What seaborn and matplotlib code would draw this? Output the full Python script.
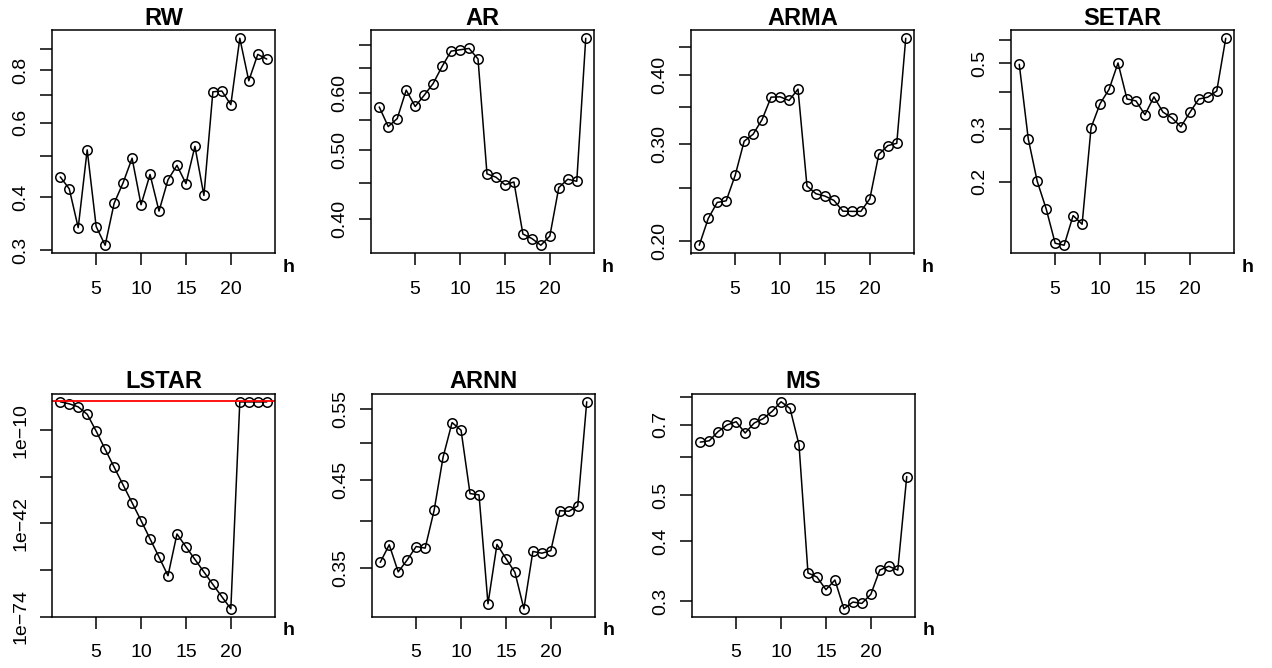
import matplotlib

matplotlib.use("Agg")

import matplotlib.pyplot as plt
import numpy as np
import seaborn as sns
from matplotlib.ticker import FixedFormatter, FixedLocator, NullLocator

H = list(range(1, 25))

RW = [0.447, 0.419, 0.339, 0.518, 0.341, 0.308, 0.387, 0.433, 0.495, 0.384, 0.453, 0.371,
      0.440, 0.476, 0.431, 0.528, 0.404, 0.711, 0.714, 0.663, 0.952, 0.755, 0.872, 0.850]
AR = [0.574, 0.539, 0.553, 0.606, 0.575, 0.596, 0.619, 0.654, 0.687, 0.690, 0.693, 0.670,
      0.463, 0.458, 0.447, 0.451, 0.3815, 0.376, 0.368, 0.379, 0.443, 0.455, 0.452, 0.716]
ARMA = [0.1967, 0.2199, 0.2351, 0.2367, 0.2632, 0.3034, 0.3124, 0.3321, 0.3646, 0.3651, 0.3596, 0.377,
        0.2517, 0.2438, 0.2414, 0.2371, 0.2267, 0.2265, 0.2265, 0.2387, 0.2873, 0.2979, 0.3008, 0.466]
SETAR = [0.4966, 0.279, 0.2005, 0.1618, 0.124, 0.1221, 0.1537, 0.1437, 0.304, 0.366, 0.409, 0.502,
         0.3796, 0.374, 0.336, 0.386, 0.343, 0.328, 0.306, 0.342, 0.3796, 0.385, 0.404, 0.608]
LSTAR = [0.5, 0.1, 9.1e-3, 2.6e-5, 4.5e-11, 2.7e-17, 2.0e-23, 1.6e-29, 1.3e-35, 1.0e-41, 5.6e-48, 3.2e-54,
         1.3e-60, 2.5e-46, 1.0e-50, 5.0e-55, 2.5e-59, 1.3e-63, 7.9e-68, 6.3e-72, 0.45, 0.45, 0.45, 0.45]
ARNN = [0.356, 0.3741, 0.3464, 0.3584, 0.3723, 0.3706, 0.4126, 0.480, 0.5294, 0.518, 0.4327, 0.4311,
        0.3164, 0.3745, 0.3598, 0.346, 0.312, 0.3671, 0.3653, 0.368, 0.4122, 0.4115, 0.4178, 0.5616]
MS = [0.6443, 0.6485, 0.678, 0.700, 0.7105, 0.673, 0.706, 0.721, 0.7467, 0.782, 0.7575, 0.636,
      0.3438, 0.3372, 0.3173, 0.3324, 0.2896, 0.2990, 0.2971, 0.3103, 0.3488, 0.355, 0.3486, 0.5463]

TITLES = ["RW", "AR", "ARMA", "SETAR", "LSTAR", "ARNN", "MS"]
SERIES = [RW, AR, ARMA, SETAR, LSTAR, ARNN, MS]

Y_TICKS = [
    [0.3, 0.4, 0.5, 0.6, 0.7, 0.8, 0.9],
    [0.40, 0.45, 0.50, 0.55, 0.60, 0.65, 0.70],
    [0.20, 0.25, 0.30, 0.35, 0.40, 0.45],
    [0.2, 0.3, 0.4, 0.5, 0.6],
    [1e-74, 1e-58, 1e-42, 1e-26, 1e-10],
    [0.35, 0.40, 0.45, 0.50, 0.55],
    [0.3, 0.4, 0.5, 0.6, 0.7, 0.8],
]
Y_LABELS = [
    ["0.3", "0.4", "", "0.6", "", "0.8", ""],
    ["0.40", "", "0.50", "", "0.60", "", ""],
    ["0.20", "", "0.30", "", "0.40", ""],
    ["0.2", "0.3", "", "0.5", ""],
    ["1e\u221274", "", "1e\u221242", "", "1e\u221210"],
    ["0.35", "", "0.45", "", "0.55"],
    ["0.3", "0.4", "0.5", "", "0.7", ""],
]
X_TICKS = [5, 10, 15, 20]
REF_LINE = {"LSTAR": 1.0}

# plot-region boxes in pixels (left, top), like R's mfrow layout
W_PX, H_PX = 1272, 668
BOX_W, BOX_H = 223, 223.5
BOXES = [(52, 30), (371, 30), (691, 30), (1011, 30),
         (52, 393.5), (372, 393.5), (692, 393.5)]

sns.set_style("ticks")
plt.rcParams["font.family"] = ["Liberation Sans", "DejaVu Sans"]
plt.rcParams["text.color"] = "black"
plt.rcParams["axes.titlecolor"] = "black"
plt.rcParams["axes.linewidth"] = 1.1

fig = plt.figure(figsize=(W_PX / 100, H_PX / 100), dpi=100)

for title, vals, yt, yl, (left, top) in zip(TITLES, SERIES, Y_TICKS, Y_LABELS, BOXES):
    ax = fig.add_axes([left / W_PX, 1 - (top + BOX_H) / H_PX, BOX_W / W_PX, BOX_H / H_PX])
    ax.set_yscale("log")
    sns.lineplot(x=H, y=vals, ax=ax, color="black", lw=1.1, marker="o", markersize=6.8,
                 mfc="none", mec="black", mew=1.1, errorbar=None)
    if title in REF_LINE:
        ax.axhline(REF_LINE[title], color="red", lw=1.3)

    # R style 4% axis extension (log scale on y)
    lo, hi = np.log(min(vals)), np.log(max(vals))
    pad = 0.04 * (hi - lo)
    ax.set_ylim(np.exp(lo - pad), np.exp(hi + pad))
    ax.set_xlim(1 - 0.04 * 23, 24 + 0.04 * 23)

    ax.yaxis.set_major_locator(FixedLocator(yt))
    ax.yaxis.set_major_formatter(FixedFormatter(yl))
    ax.yaxis.set_minor_locator(NullLocator())
    ax.set_xticks(X_TICKS)
    ax.set_xticklabels([str(t) for t in X_TICKS])
    ax.tick_params(axis="both", direction="out", length=8.6, width=1.1, labelsize=14, colors="black")
    ax.tick_params(axis="x", pad=11)
    ax.tick_params(axis="y", pad=7.8)
    for lab in ax.get_yticklabels():
        lab.set_rotation(90)
        lab.set_va("center")

    ax.set_xlabel("")
    ax.set_ylabel("")
    ax.set_title(title, fontsize=17, fontweight="bold", pad=1.5, color="black")
    ax.annotate("h", xy=(1, 0), xycoords="axes fraction", xytext=(10, -10),
                textcoords="offset points", ha="center", va="center",
                fontsize=14, fontweight="bold", color="black")
    for s in ax.spines.values():
        s.set_color("black")
        s.set_linewidth(1.1)

fig.savefig("out.png", dpi=100)
plt.close(fig)
